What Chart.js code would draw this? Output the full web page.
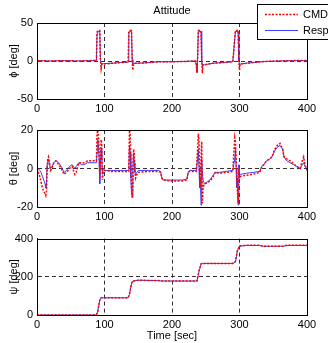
<!DOCTYPE html>
<html>
<head>
<meta charset="utf-8">
<script src="https://cdn.jsdelivr.net/npm/chart.js@4.4.1/dist/chart.umd.min.js"></script>
<style>
  body { margin: 0; background: #fff; }
  #wrap { position: relative; width: 328px; height: 343px; overflow: hidden; }
  canvas { position: absolute; left: 0; }
</style>
</head>
<body>
<div id="wrap">
  <canvas id="phi_chart" width="328" height="116" style="top:0px"></canvas>
  <canvas id="theta_chart" width="328" height="112" style="top:116px"></canvas>
  <canvas id="psi_chart" width="328" height="115" style="top:228px"></canvas>
</div>
<script>
// time axis ticks
var timeTicks = [0, 100, 200, 300, 400];

// roll angle
var phiTime = [0, 20, 40, 60, 80, 88, 89, 90, 93, 94, 95, 96, 98, 110, 125, 135, 136, 137, 140, 141, 142, 143, 145, 160, 180, 200, 220, 235, 236, 237, 238, 239, 243, 244, 245, 246, 248, 260, 275, 290, 291, 293, 294, 298, 299, 300, 301, 303, 320, 340, 360, 380, 400];
var phiCmd  = [0.5, 0, 0.5, 0, 0.5, 0.5, 38, 40, 40, 0, -10, -4, -4, -3, -2, -1.5, 38, 40, 40, 0, -12, -4, -3, -2.5, -1, -1, -0.5, 0, -5, -16, 5, 40, 40, 0, -16, -5, -5, -3, -2, -1, 8, 30, 40, 40, 0, -12, -4, -4, -2, -0.5, 0, 0.5, 0.5];
var phiResp = [0.5, 0, 0.5, 0, 0.5, 0.5, 36, 39, 39, 2, -4, -4, -3.5, -3, -2, -1.5, 36, 39, 39, 2, -4, -3.5, -3, -2.5, -1, -1, -0.5, 0, -5, -15, 5, 39, 39, 2, -8, -5, -5, -3, -2, -1, 8, 30, 39, 39, 2, -5, -4, -3.5, -2, -0.5, 0, 0.5, 0.5];

// pitch angle
var thetaTime = [0, 2, 4, 6, 8, 10, 12, 13, 14, 15, 16, 17, 18, 20, 22, 25, 28, 32, 36, 40, 44, 48, 52, 56, 58, 62, 66, 70, 75, 80, 85, 88, 89, 90, 91, 92, 93, 94, 95, 96, 97, 98, 100, 110, 120, 130, 136, 137, 138, 139, 140, 141, 142, 143, 144, 145, 146, 148, 150, 165, 180, 183, 185, 187, 200, 215, 222, 224, 226, 236, 238, 239, 240, 241, 242, 243, 244, 245, 246, 248, 252, 256, 260, 264, 270, 280, 290, 293, 294, 295, 296, 297, 298, 299, 300, 302, 310, 320, 330, 333, 336, 340, 345, 348, 352, 356, 360, 364, 366, 370, 375, 380, 385, 390, 393, 395, 397, 400];
var thetaCmd  = [0, -2, -4, -7, -10, -12, -13, -14, -12, 0, 5, 6, 4, -1, 0, 3, 4, 2, 0, -3, -2, 0, 1, -3, -2, 3, 3, 3, 4, 4, 4, 4, 18, 20, 17, 10, -5, 4, 15, 12, -6, -2, -1, -1.5, -1.5, -1.5, -1.5, 20, 18, 5, -10, -15, -8, 10, 8, 0, -5, -3, -2, -1.5, -1.5, -2, -5, -6, -6.5, -6.5, -6, -2, -1.5, -1.5, 10, 18, 15, -5, -10, 5, 14, -18, -10, -8, -7.5, -6.5, -5, -2, -2.5, -2, -1.5, 16, 14, 5, -5, -12, -18, 0, -5, -4, -3.5, -3, -2, 1, 2, 4, 5, 6, 10, 12, 13, 10, 6, 5, 4, 2.5, 1, 0, 4, 6, 2, -1];
var thetaResp = [0, 0, -1, -2, -4, -6, -8, -10, -9, 2, 4, 5, 3, 0, 1, 3, 4, 3, 1, -2, -1, 1, 2, 0, 1, 3, 2, 2, 3, 3, 3, 3, 8, 15, 12, 5, -8, 2, 10, 5, -3, 0, -1, -1, -1, -1, -1, 12, 8, -5, -12, -15, 0, 8, 3, -2, -3, -2, -1, -1, -1, -1.5, -5, -6, -6, -6, -5.5, -2, -1, -1, 5, 10, 0, -10, -5, -19, 5, -2, -6, -8, -7, -6, -4, -2, -2, -1.5, -1, 5, 10, 0, -10, -5, -19, 2, -3, -3, -2.5, -2, -1.5, 1, 2, 4, 5, 6, 9, 11, 12, 10, 6, 4, 3, 2, 1, 0, 2, 3, 1, 0];

// yaw angle
var psiTime = [0, 3, 88, 90, 93, 95, 110, 135, 137, 140, 142, 150, 180, 185, 200, 237, 240, 243, 245, 290, 294, 297, 300, 310, 330, 335, 365, 370, 400];
var psiCmd  = [2, 0, 0, 20, 80, 90, 90, 90, 110, 165, 178, 182, 180, 178, 178, 178, 230, 268, 270, 270, 280, 340, 362, 365, 365, 360, 360, 365, 365];
var psiResp = [3, 0, 0, 18, 78, 90, 90, 90, 108, 163, 178, 182, 180, 178, 178, 178, 228, 266, 270, 270, 278, 338, 360, 364, 364, 360, 360, 364, 364];

var fontFamily = "'Liberation Sans', Arial, sans-serif";

function points(t, v) {
    return t.map(function (x, i) { return { x: x, y: v[i] }; });
}

// dashed grid only inside, the edges are covered by the frame
function gridColor(first, last) {
    return function (c) {
        if (c.tick && (c.tick.value === first || c.tick.value === last)) return 'rgba(0,0,0,0)';
        return '#333';
    };
}

// box round the plot area (matlab "box on") and the optional title above it
var framePlugin = {
    id: 'frame',
    afterDatasetsDraw: function (chart, args, opts) {
        var a = chart.chartArea, ctx = chart.ctx;
        var l = Math.round(a.left) + 0.5, r = Math.round(a.right) + 0.5;
        var t = Math.round(a.top) + 0.5, b = Math.round(a.bottom) + 0.5;
        ctx.save();
        ctx.strokeStyle = '#000';
        ctx.lineWidth = 1;
        ctx.strokeRect(l, t, r - l, b - t);
        if (opts.title) {
            ctx.fillStyle = '#000';
            ctx.font = '11px ' + fontFamily;
            ctx.textAlign = 'center';
            ctx.textBaseline = 'middle';
            ctx.fillText(opts.title, (a.left + a.right) / 2, 11);
        }
        ctx.restore();
    }
};

// legend box sitting on top right of the first plot
var legendPlugin = {
    id: 'boxLegend',
    afterDraw: function (chart) {
        var ctx = chart.ctx;
        ctx.save();
        ctx.fillStyle = '#fff';
        ctx.fillRect(257, 4, 80, 35);
        ctx.strokeStyle = '#000';
        ctx.lineWidth = 1;
        ctx.strokeRect(257.5, 4.5, 80, 35);
        chart.data.datasets.forEach(function (ds, i) {
            var y = 14 + i * 16;
            ctx.strokeStyle = ds.borderColor;
            ctx.lineWidth = ds.borderWidth;
            ctx.setLineDash(ds.borderDash || []);
            ctx.beginPath();
            ctx.moveTo(265, y + 0.5);
            ctx.lineTo(298, y + 0.5);
            ctx.stroke();
            ctx.setLineDash([]);
            ctx.fillStyle = '#000';
            ctx.font = '11px ' + fontFamily;
            ctx.textBaseline = 'middle';
            ctx.fillText(ds.label, 303, y + 1);
        });
        ctx.restore();
    }
};

function makeChart(id, opt) {
    var canvas = document.getElementById(id);
    var H = canvas.height;
    var yMin = opt.yTicks[0], yMax = opt.yTicks[opt.yTicks.length - 1];
    return new Chart(canvas.getContext('2d'), {
        type: 'line',
        data: {
            datasets: [{
                label: 'CMD',
                data: points(opt.time, opt.cmd),
                borderColor: 'rgb(255, 0, 0)',
                borderWidth: 1.5,
                borderDash: [2, 1.5],
                pointRadius: 0,
                tension: 0
            }, {
                label: 'Resp',
                data: points(opt.time, opt.resp),
                borderColor: 'rgb(60, 60, 255)',
                borderWidth: 1,
                pointRadius: 0,
                tension: 0
            }]
        },
        options: {
            responsive: false,
            animation: false,
            layout: { padding: { top: opt.top, right: 21, bottom: 0, left: 0 } },
            plugins: {
                legend: { display: false },
                tooltip: { enabled: false },
                title: { display: false },
                frame: { title: opt.title }
            },
            scales: {
                x: {
                    type: 'linear',
                    min: 0,
                    max: 400,
                    afterBuildTicks: function (s) { s.ticks = timeTicks.map(function (v) { return { value: v }; }); },
                    afterFit: function (s) { s.height = H - opt.bottom; },
                    ticks: { color: '#000', font: { family: fontFamily, size: 11 }, padding: 3, maxRotation: 0 },
                    grid: { color: gridColor(0, 400), drawTicks: false },
                    border: { color: '#000', dash: [4, 3] },
                    title: {
                        display: !!opt.xTitle,
                        text: opt.xTitle || '',
                        color: '#000',
                        font: { family: fontFamily, size: 11 },
                        padding: { top: 0, bottom: 0 }
                    }
                },
                y: {
                    min: yMin,
                    max: yMax,
                    afterBuildTicks: function (s) { s.ticks = opt.yTicks.map(function (v) { return { value: v }; }); },
                    afterFit: function (s) { s.width = 37; },
                    ticks: { color: '#000', font: { family: fontFamily, size: 11 }, padding: 4 },
                    grid: { color: gridColor(yMin, yMax), drawTicks: false },
                    border: { color: '#000', dash: [4, 3] },
                    title: {
                        display: true,
                        text: opt.yTitle,
                        color: '#000',
                        font: { family: fontFamily, size: 11 },
                        padding: { top: 7, bottom: 0 }
                    }
                }
            }
        },
        plugins: opt.legend ? [framePlugin, legendPlugin] : [framePlugin]
    });
}

var phi_chart = makeChart('phi_chart', {
    time: phiTime, cmd: phiCmd, resp: phiResp,
    yTicks: [-50, 0, 50], yTitle: 'ϕ [deg]',
    title: 'Attitude', top: 23, bottom: 99, legend: true
});

var theta_chart = makeChart('theta_chart', {
    time: thetaTime, cmd: thetaCmd, resp: thetaResp,
    yTicks: [-20, 0, 20], yTitle: 'θ [deg]',
    top: 14, bottom: 91
});

var psi_chart = makeChart('psi_chart', {
    time: psiTime, cmd: psiCmd, resp: psiResp,
    yTicks: [0, 200, 400], yTitle: 'ψ [deg]',
    xTitle: 'Time [sec]', top: 9, bottom: 87
});
</script>
</body>
</html>
